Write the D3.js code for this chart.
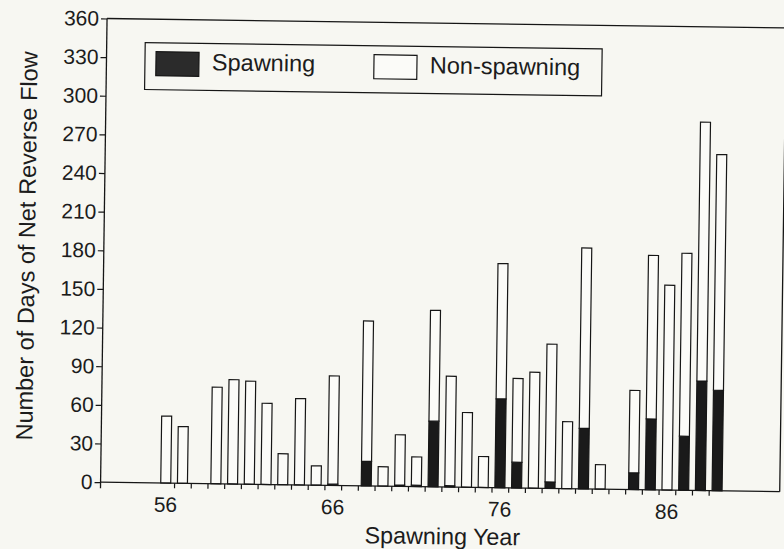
<!DOCTYPE html>
<html>
<head>
<meta charset="utf-8">
<script src="https://cdn.jsdelivr.net/npm/d3@7/dist/d3.min.js"></script>
<style>
  html, body { margin: 0; padding: 0; background: #f7f7f2; }
  svg { display: block; }
  text { font-family: "Liberation Sans", Arial, Helvetica, sans-serif; fill: #1c1c1c; }
</style>
</head>
<body>
<svg id="chart" width="784" height="549"></svg>
<script>
// ---- data ----
const years = [56,57,58,59,60,61,62,63,64,65,66,67,68,69,70,71,72,73,74,75,76,77,78,79,80,81,82,83,84,85,86,87,88,89];
const spawning    = [0,0,0,0,0,0,0,0,0,0,1,0,19,0,1,1,51,1,0,0,69,20,0,5,0,47,0,0,13,55,0,42,85,78];
const nonSpawning = [52,44,0,75,81,80,63,24,67,15,84,0,109,15,39,22,86,85,58,24,105,65,90,107,52,140,19,0,64,127,159,142,201,183];
const yTicks = [0,30,60,90,120,150,180,210,240,270,300,330,360];
const xLabels = [56,66,76,86];
const seriesNames = ["Spawning","Non-spawning"];

// ---- layout ----
const W = 784, H = 549;
const mLeft = 103.5, mRight = 782.7, mTop = 22.5, mBottom = 486.2;

const svg = d3.select("#chart");
svg.append("rect").attr("width", W).attr("height", H).attr("fill", "#f7f7f2");
const g = svg.append("g").attr("transform", "rotate(0.8, 392, 275)");

const x = d3.scaleLinear().domain([52.1, 92.75]).range([mLeft, mRight]);
const y = d3.scaleLinear().domain([0, 360]).range([mBottom, mTop]);
const barW = 10;
const ink = "#161616";

const table = years.map((yr, i) => ({year: yr, Spawning: spawning[i], "Non-spawning": nonSpawning[i]}));
const stacked = d3.stack().keys(seriesNames)(table);

// frame (top and right)
g.append("path")
  .attr("d", `M${mLeft},${mTop}H${mRight}V${mBottom}`)
  .attr("fill", "none").attr("stroke", ink).attr("stroke-width", 1.3);

// bars
const fills = {"Spawning": "#1a1a1a", "Non-spawning": "#fbfbf8"};
stacked.forEach(s => {
  g.append("g").selectAll("rect")
    .data(s.filter(d => d[1] - d[0] > 0))
    .join("rect")
    .attr("x", d => x(d.data.year) - barW / 2)
    .attr("width", barW)
    .attr("y", d => y(d[1]))
    .attr("height", d => y(d[0]) - y(d[1]))
    .attr("fill", fills[s.key])
    .attr("stroke", ink)
    .attr("stroke-width", 1.2);
});

// y axis
const yAxis = d3.axisLeft(y).tickValues(yTicks).tickSize(6).tickSizeOuter(0).tickPadding(2);
const ya = g.append("g").attr("transform", `translate(${mLeft},0)`).call(yAxis);
ya.select(".domain").remove();
ya.selectAll("line").attr("stroke", ink).attr("stroke-width", 1.2);
ya.selectAll("text").attr("font-size", 21).attr("fill", "#1c1c1c").style("font-family", '"Liberation Sans", Arial, sans-serif');
g.append("line").attr("x1", mLeft).attr("x2", mLeft).attr("y1", mTop).attr("y2", mBottom + 6)
  .attr("stroke", ink).attr("stroke-width", 1.3);

// x axis: ticks between years, labels at bar centres
const tickYears = years.slice(0, years.length - 1).map(v => v + 0.5);
const xAxis = d3.axisBottom(x).tickValues(tickYears).tickSize(5).tickSizeOuter(0).tickFormat("");
const xa = g.append("g").attr("transform", `translate(0,${mBottom})`).call(xAxis);
xa.select(".domain").remove();
xa.selectAll("line").attr("stroke", ink).attr("stroke-width", 1.2);
g.append("line").attr("x1", mLeft).attr("x2", mRight).attr("y1", mBottom).attr("y2", mBottom)
  .attr("stroke", ink).attr("stroke-width", 1.3);
g.append("g").selectAll("text").data(xLabels).join("text")
  .attr("x", d => x(d)).attr("y", 515)
  .attr("text-anchor", "middle").attr("font-size", 21)
  .text(d => d);

// axis titles
g.append("text").attr("x", 446).attr("y", 543.5).attr("text-anchor", "middle")
  .attr("font-size", 23.3).text("Spawning Year");
g.append("text").attr("transform", "translate(34.5,251) rotate(-90)")
  .attr("text-anchor", "middle").attr("font-size", 23.5)
  .text("Number of Days of Net Reverse Flow");

// legend
const lg = g.append("g");
lg.append("rect").attr("x", 142).attr("y", 46).attr("width", 457).attr("height", 47)
  .attr("fill", "none").attr("stroke", ink).attr("stroke-width", 1.2);
const legendItems = [
  {name: seriesNames[0], sx: 153, tx: 209, fill: "#2b2b2b"},
  {name: seriesNames[1], sx: 371, tx: 427, fill: "#fbfbf8"}
];
legendItems.forEach(it => {
  lg.append("rect").attr("x", it.sx).attr("y", 55).attr("width", 43).attr("height", 24)
    .attr("fill", it.fill).attr("stroke", ink).attr("stroke-width", 1.2);
  lg.append("text").attr("x", it.tx).attr("y", 72.8).attr("font-size", 23.5).text(it.name);
});
</script>
</body>
</html>
